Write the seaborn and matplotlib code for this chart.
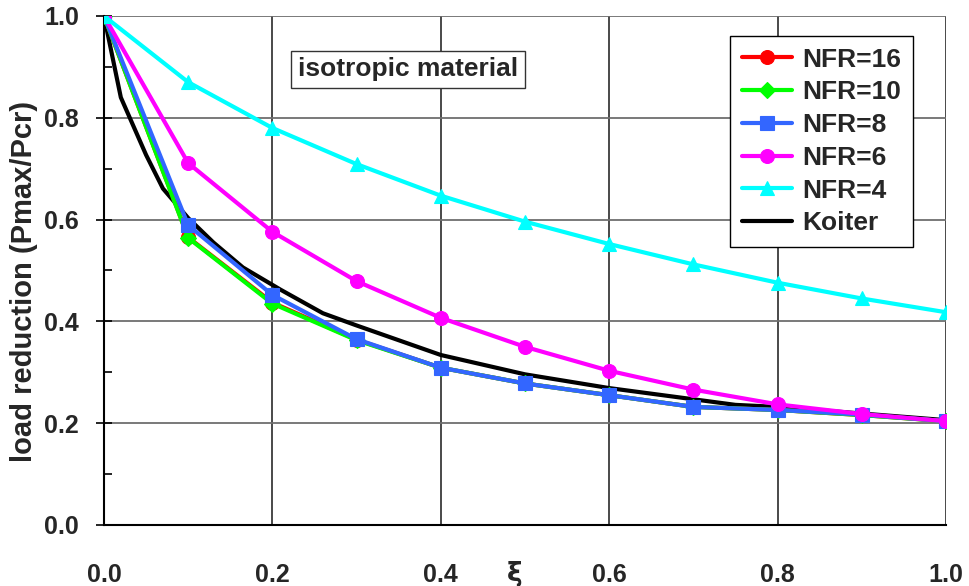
import matplotlib
matplotlib.use("Agg")
import matplotlib.pyplot as plt
import seaborn as sns
import pandas as pd
import numpy as np
from matplotlib.ticker import MultipleLocator, FormatStrFormatter
from matplotlib import font_manager

xi = [0.0, 0.1, 0.2, 0.3, 0.4, 0.5, 0.6, 0.7, 0.8, 0.9, 1.0]
nfr16 = [1.0, 0.565, 0.437, 0.364, 0.309, 0.278, 0.255, 0.232, 0.226, 0.216, 0.204]
nfr10 = [1.0, 0.564, 0.435, 0.363, 0.309, 0.278, 0.255, 0.232, 0.226, 0.216, 0.204]
nfr8 = [1.0, 0.589, 0.452, 0.365, 0.309, 0.278, 0.255, 0.232, 0.226, 0.217, 0.204]
nfr6 = [1.0, 0.711, 0.576, 0.479, 0.407, 0.350, 0.303, 0.266, 0.237, 0.218, 0.204]
nfr4 = [1.0, 0.870, 0.780, 0.709, 0.647, 0.596, 0.552, 0.512, 0.476, 0.445, 0.418]

koiter_x = [0.0, 0.02, 0.05, 0.07, 0.1, 0.13, 0.165, 0.21, 0.26, 0.3, 0.4, 0.5, 0.6, 0.7, 0.75, 0.8, 0.9, 1.0]
koiter_y = [1.0, 0.84, 0.727, 0.661, 0.603, 0.555, 0.506, 0.462, 0.416, 0.392, 0.334, 0.296, 0.269, 0.247, 0.236, 0.232, 0.219, 0.206]

series_names = ["NFR=16", "NFR=10", "NFR=8", "NFR=6", "NFR=4"]
series_vals = [nfr16, nfr10, nfr8, nfr6, nfr4]
colors = ["#FF0000", "#00FF00", "#3366FF", "#FF00FF", "#00FFFF"]
markers = ["o", "D", "s", "o", "^"]
msizes = [10, 8, 9.5, 10, 10.5]

sns.set_style("white")
plt.rcParams['font.family'] = ['Liberation Sans', 'DejaVu Sans']
plt.rcParams['font.weight'] = 'bold'

installed = {f.name for f in font_manager.fontManager.ttflist}
narrow = ['Liberation Sans Narrow', 'Liberation Sans'] if 'Liberation Sans Narrow' in installed else ['Liberation Sans']

fig = plt.figure(figsize=(9.7, 5.86), dpi=100)
ax = fig.add_axes([104/970, 61/586, 842/970, 509/586])

df_k = pd.DataFrame({"x": koiter_x, "y": koiter_y})
sns.lineplot(data=df_k, x="x", y="y", ax=ax, color="black", lw=3.0, label="Koiter", zorder=3)

for name, vals, c, m, ms in zip(series_names, series_vals, colors, markers, msizes):
    d = pd.DataFrame({"x": xi, "y": vals})
    sns.lineplot(data=d, x="x", y="y", ax=ax, color=c, lw=3.0, marker=m, markersize=ms,
                 markeredgewidth=0.8, markeredgecolor=c, label=name, zorder=4)

ax.set_xlim(0, 1.0)
ax.set_ylim(0, 1.0)
ax.xaxis.set_major_locator(MultipleLocator(0.2))
ax.yaxis.set_major_locator(MultipleLocator(0.2))
ax.yaxis.set_minor_locator(MultipleLocator(0.1))
ax.xaxis.set_major_formatter(FormatStrFormatter('%.1f'))
ax.yaxis.set_major_formatter(FormatStrFormatter('%.1f'))

ax.grid(True, which='major', axis='y', color='#6e6e6e', lw=1.3)
ax.grid(True, which='major', axis='x', color='#3a3a3a', lw=1.3)
ax.set_axisbelow(True)

for s in ['top', 'right']:
    ax.spines[s].set_visible(False)
for s in ['left', 'bottom']:
    ax.spines[s].set_color('black')
    ax.spines[s].set_linewidth(1.5)

ax.tick_params(axis='y', which='major', direction='inout', length=12, width=1.2, color='black',
               labelsize=18, pad=12, left=True)
ax.tick_params(axis='y', which='minor', direction='in', length=6, width=1.2, color='black', left=True)
ax.tick_params(axis='x', which='major', direction='inout', length=0, labelsize=18, pad=27, bottom=True)
for lab in ax.get_yticklabels():
    lab.set_fontweight('bold')
for lab in ax.get_xticklabels():
    lab.set_fontweight('bold')
    lab.set_family(narrow)

ax.set_xlabel("")
ax.set_ylabel("")
fig.text(24/970, 1 - 281/586, "load reduction (Pmax/Pcr)", fontsize=21, fontweight='bold',
         rotation=90, ha='center', va='center')
fig.text(515/970, 1 - 574/586, "ξ", fontsize=19, fontweight='bold', ha='center', va='center',
         family=['DejaVu Sans'])

ax.text(0.361, 0.895, "isotropic material", transform=ax.transAxes, fontsize=19, fontweight='bold',
        ha='center', va='center',
        bbox=dict(boxstyle='square,pad=0.25', fc='white', ec='#333333', lw=1.0))

h, l = ax.get_legend_handles_labels()
order = [l.index(n) for n in series_names + ["Koiter"]]
leg = ax.legend([h[i] for i in order], [l[i] for i in order], loc='upper right',
                bbox_to_anchor=(0.961, 0.961), fontsize=19, frameon=True, fancybox=False,
                edgecolor='black', framealpha=1, handlelength=1.9, labelspacing=0.33,
                borderpad=0.45, handletextpad=0.4, borderaxespad=0)
leg.get_frame().set_linewidth(1.0)
for t in leg.get_texts():
    t.set_fontweight('bold')

fig.savefig("out.png", dpi=100)
